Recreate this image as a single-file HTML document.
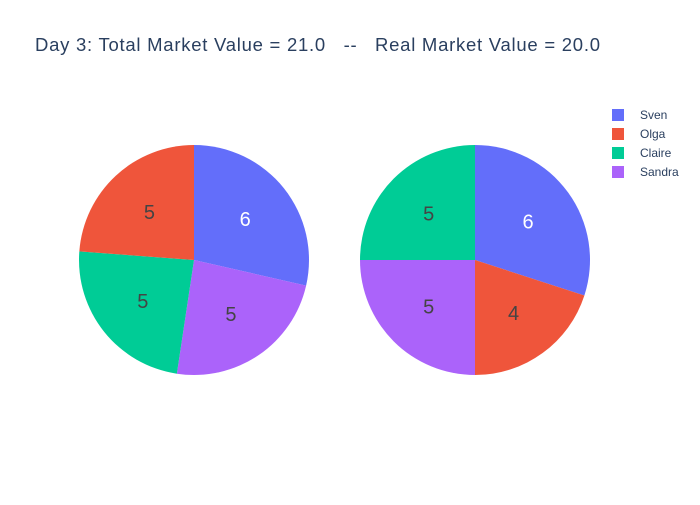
<!DOCTYPE html>
<html><head><meta charset="utf-8"><style>
body{margin:0;background:#fff;}
svg{font-family:"Liberation Sans",sans-serif;}
</style></head><body>
<svg id="chart" width="700" height="500">
<rect width="700" height="500" fill="#fff"/>
<text x="35" y="51" font-size="18.5" fill="#2a3f5f" textLength="565" lengthAdjust="spacing" xml:space="preserve">Day 3: Total Market Value = 21.0   --   Real Market Value = 20.0</text>
<g id="pies"></g>
<g id="legend"></g>
</svg>
<script>
const names = ["Sven","Olga","Claire","Sandra"];
const colors = {Sven:"#636efa",Olga:"#ef553b",Claire:"#00cc96",Sandra:"#ab63fa"};
const leftOrder = ["Sven","Sandra","Claire","Olga"];
const leftValues = [6,5,5,5];
const rightOrder = ["Sven","Olga","Sandra","Claire"];
const rightValues = [6,4,5,5];
const ns="http://www.w3.org/2000/svg";
const pies=document.getElementById('pies');
function drawPie(cx,cy,R,order,vals,key){
  const total=vals.reduce((a,b)=>a+b,0);
  let a0=0;
  order.forEach((n,i)=>{
    const a1=a0+vals[i]/total*2*Math.PI;
    const p=(a)=>[cx+R*Math.sin(a),cy-R*Math.cos(a)];
    const [x0,y0]=p(a0),[x1,y1]=p(a1);
    const large=(a1-a0)>Math.PI?1:0;
    const path=document.createElementNS(ns,'path');
    path.setAttribute('d',`M${cx},${cy}L${x0},${y0}A${R},${R} 0 ${large} 1 ${x1},${y1}Z`);
    path.setAttribute('fill',colors[n]);
    
    
    pies.appendChild(path);
    const am=(a0+a1)/2, r=R*0.57;
    const t=document.createElementNS(ns,'text');
    t.setAttribute('x',cx+r*Math.sin(am));
    t.setAttribute('y',cy-r*Math.cos(am)+7);
    t.setAttribute('text-anchor','middle');
    t.setAttribute('font-size','20');
    t.setAttribute('fill',n==="Sven"?'#fff':'#444');
    t.textContent=vals[i];
    
    
    pies.appendChild(t);
    a0=a1;
  });
}
drawPie(194,260,115,leftOrder,leftValues,'left-pie');
drawPie(475,260,115,rightOrder,rightValues,'right-pie');
const lg=document.getElementById('legend');
names.forEach((n,i)=>{
  const y=115+i*19;
  const g=document.createElementNS(ns,'g');
  
  
  const r=document.createElementNS(ns,'rect');
  r.setAttribute('x',612);r.setAttribute('y',y-6);r.setAttribute('width',12);r.setAttribute('height',12);
  r.setAttribute('fill',colors[n]);
  const t=document.createElementNS(ns,'text');
  t.setAttribute('x',640);t.setAttribute('y',y+4);t.setAttribute('font-size','12');t.setAttribute('fill','#2a3f5f');
  t.textContent=n;
  g.appendChild(r);g.appendChild(t);lg.appendChild(g);
});
</script>
</body></html>
